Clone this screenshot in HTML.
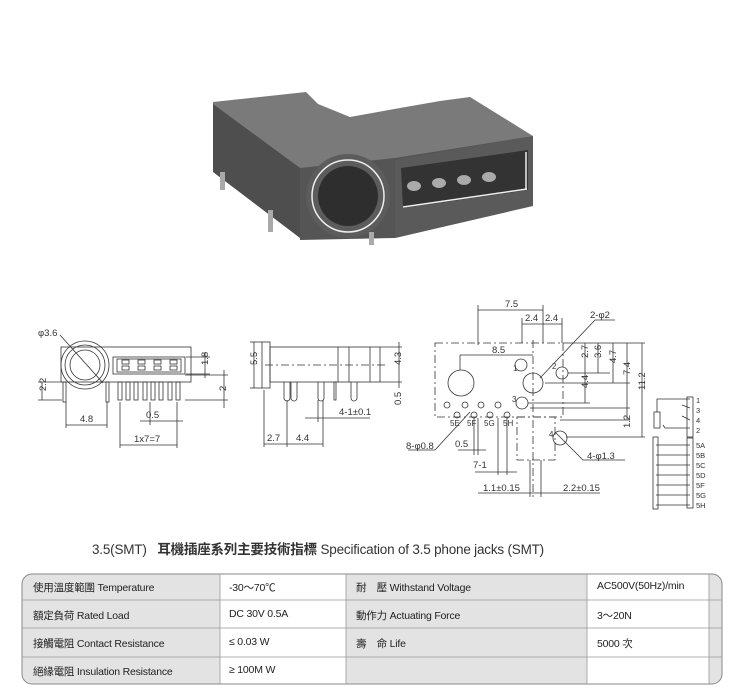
<!DOCTYPE html>
<html><head><meta charset="utf-8"><style>
html,body{margin:0;padding:0;background:#fff;}
body{width:740px;height:700px;position:relative;overflow:hidden;font-family:"Liberation Sans","Noto Sans CJK TC",sans-serif;}
svg{position:absolute;left:0;top:0;}
.t{position:absolute;font-size:10.5px;color:#222;white-space:nowrap;letter-spacing:-0.2px;}
</style></head><body>
<svg width="740" height="700" viewBox="0 0 740 700" font-family="Liberation Sans, sans-serif">
<g>
<polygon points="213,102 306,92 318,104 350,117 400,108 440,101 470,97 533,136 395,160 300,170 213,106" fill="#7a7a7a"/>
<polygon points="213,104 300,168 300,238 213,172" fill="#4e4e4e"/>
<polygon points="300,168 395,158 533,136 533,205 395,238 300,240" fill="#555"/>
<polygon points="395,160 533,136 533,206 395,238" fill="#5a5a5a"/>
<polygon points="401,168 528,150 528,190 403,208" fill="#333"/>
<circle cx="348" cy="196" r="42" fill="#5c5c5c"/>
<circle cx="348" cy="196" r="36" fill="none" stroke="#eee" stroke-width="1.5"/>
<circle cx="348" cy="196" r="30" fill="#2e2e2e"/>
<ellipse cx="414" cy="186" rx="7" ry="5" fill="#aaa"/><ellipse cx="439" cy="183" rx="7" ry="5" fill="#aaa"/><ellipse cx="464" cy="180" rx="7" ry="5" fill="#aaa"/><ellipse cx="489" cy="177" rx="7" ry="5" fill="#aaa"/>
<line x1="403" y1="207" x2="527" y2="189" stroke="#eee" stroke-width="1.5"/>
<line x1="526" y1="152" x2="526" y2="190" stroke="#eee" stroke-width="1.5"/>
<rect x="220" y="172" width="5" height="18" fill="#aaa"/><rect x="268" y="210" width="5" height="22" fill="#aaa"/><rect x="369" y="232" width="5" height="13" fill="#aaa"/>
</g>
<g stroke="#333" stroke-width="0.8" fill="none">
<rect x="61" y="347" width="130" height="35"/>
<circle cx="85" cy="365" r="24"/><circle cx="85" cy="365" r="20"/><circle cx="85" cy="365" r="15"/>
<line x1="60" y1="335" x2="103" y2="383"/>
<rect x="113" y="357" width="72" height="17"/>
<rect x="117" y="359" width="64" height="13"/>
<g><rect x="122" y="360" width="7" height="4"/><rect x="122" y="366" width="7" height="4"/><rect x="138" y="360" width="7" height="4"/><rect x="138" y="366" width="7" height="4"/><rect x="154" y="360" width="7" height="4"/><rect x="154" y="366" width="7" height="4"/><rect x="170" y="360" width="7" height="4"/><rect x="170" y="366" width="7" height="4"/></g>
<rect x="63" y="382" width="3" height="20"/><rect x="106" y="382" width="3" height="20"/>
<rect x="118" y="382" width="4" height="18"/><rect x="126" y="382" width="4" height="18"/><rect x="134" y="382" width="4" height="18"/><rect x="143" y="382" width="4" height="18"/><rect x="151" y="382" width="4" height="18"/><rect x="159" y="382" width="4" height="18"/><rect x="168" y="382" width="4" height="18"/><rect x="176" y="382" width="4" height="18"/>
<line x1="38" y1="382" x2="62" y2="382"/><line x1="38" y1="400" x2="62" y2="400"/><line x1="42" y1="382" x2="42" y2="400"/>
<line x1="66" y1="402" x2="66" y2="428"/><line x1="107" y1="402" x2="107" y2="428"/><line x1="66" y1="425" x2="107" y2="425"/>
<line x1="120" y1="402" x2="120" y2="448"/><line x1="177" y1="402" x2="177" y2="448"/><line x1="120" y1="445" x2="177" y2="445"/>
<line x1="150" y1="402" x2="150" y2="425"/><line x1="140" y1="421" x2="183" y2="421"/>
<line x1="186" y1="357" x2="210" y2="357"/><line x1="186" y1="374" x2="210" y2="374"/><line x1="205" y1="352" x2="205" y2="378"/>
<line x1="185" y1="375" x2="228" y2="375"/><line x1="185" y1="400" x2="228" y2="400"/><line x1="224" y1="370" x2="224" y2="408"/>
<rect x="262" y="342" width="8" height="46"/>
<rect x="270" y="347" width="110" height="35"/>
<line x1="338" y1="347" x2="338" y2="382"/><line x1="349" y1="347" x2="349" y2="382"/><line x1="370" y1="347" x2="370" y2="382"/>
<line x1="265" y1="365" x2="385" y2="365" stroke-dasharray="8,3,2,3"/>
<path d="M284,382 v16 a3,3 0 0 0 6,0 v-16 M291,382 v16 a3,3 0 0 0 6,0 v-16 M318,382 v16 a3,3 0 0 0 6,0 v-16 M351,382 v16 a3,3 0 0 0 6,0 v-16"/>
<rect x="334" y="382" width="2" height="18"/>
<line x1="250" y1="342" x2="262" y2="342"/><line x1="250" y1="388" x2="262" y2="388"/><line x1="254" y1="342" x2="254" y2="388"/>
<line x1="380" y1="347" x2="402" y2="347"/><line x1="380" y1="382" x2="402" y2="382"/><line x1="399" y1="342" x2="399" y2="388"/>
<line x1="264" y1="390" x2="264" y2="447"/><line x1="287" y1="400" x2="287" y2="447"/><line x1="323" y1="400" x2="323" y2="447"/><line x1="264" y1="444" x2="323" y2="444"/>
<line x1="318" y1="400" x2="318" y2="422"/><line x1="305" y1="418" x2="370" y2="418"/>
<g stroke-dasharray="8,3,2,3"><rect x="435" y="343" width="128" height="74"/><rect x="517" y="417" width="38" height="43"/>
<line x1="533" y1="340" x2="533" y2="500"/></g>
<circle cx="461" cy="383" r="13"/><circle cx="521" cy="365" r="6"/><circle cx="533" cy="383" r="10"/><circle cx="562" cy="373" r="6"/><circle cx="522" cy="403" r="6"/><circle cx="560" cy="438" r="7"/>
<circle cx="447" cy="405" r="3"/><circle cx="465" cy="405" r="3"/><circle cx="481" cy="405" r="3"/><circle cx="498" cy="405" r="3"/>
<circle cx="457" cy="415" r="3"/><circle cx="474" cy="415" r="3"/><circle cx="490" cy="415" r="3"/><circle cx="507" cy="415" r="3"/>
<line x1="478" y1="305" x2="478" y2="345"/><line x1="478" y1="310" x2="543" y2="310"/><line x1="543" y1="305" x2="543" y2="343"/>
<line x1="522" y1="318" x2="522" y2="343"/><line x1="562" y1="318" x2="562" y2="343"/><line x1="522" y1="324" x2="562" y2="324"/>
<line x1="460" y1="355" x2="533" y2="355"/><line x1="460" y1="355" x2="460" y2="370"/>
<line x1="540" y1="378" x2="595" y2="320"/><line x1="595" y1="320" x2="615" y2="320"/>
<line x1="563" y1="343" x2="645" y2="343"/><line x1="568" y1="373" x2="610" y2="373"/><line x1="545" y1="383" x2="630" y2="383"/>
<line x1="585" y1="343" x2="585" y2="373"/><line x1="598" y1="343" x2="598" y2="373"/><line x1="613" y1="343" x2="613" y2="383"/><line x1="627" y1="343" x2="627" y2="420"/><line x1="642" y1="343" x2="642" y2="437"/>
<line x1="585" y1="373" x2="585" y2="403"/><line x1="528" y1="403" x2="590" y2="403"/>
<line x1="530" y1="408" x2="630" y2="408"/><line x1="560" y1="420" x2="630" y2="420"/><line x1="566" y1="437" x2="645" y2="437"/>
<line x1="470" y1="412" x2="435" y2="450"/><line x1="435" y1="450" x2="408" y2="450"/>
<line x1="555" y1="432" x2="583" y2="460"/><line x1="583" y1="460" x2="625" y2="460"/>
<line x1="474" y1="418" x2="474" y2="455"/><line x1="478" y1="418" x2="478" y2="455"/><line x1="458" y1="450" x2="486" y2="450"/>
<line x1="498" y1="418" x2="498" y2="475"/><line x1="507" y1="418" x2="507" y2="475"/><line x1="475" y1="472" x2="517" y2="472"/>
<line x1="530" y1="460" x2="530" y2="497"/><line x1="541" y1="460" x2="541" y2="497"/><line x1="478" y1="493" x2="600" y2="493"/>
<rect x="687" y="397" width="6" height="40"/><rect x="687" y="438" width="6" height="70"/><rect x="653" y="437" width="5" height="72"/>
<rect x="654" y="412" width="6" height="16"/>
<path d="M657,412 v-13 h33 M690,408 l-8,-3 M690,420 l-8,-4 M690,428 l-25,0 l-2,-3"/>
<path d="M656,445 h34 M656,455 h34 M656,465 h34 M656,475 h34 M656,485 h34 M656,495 h34 M656,505 h34"/>
</g>
<g fill="#333" font-size="9.5">
<text x="38" y="336">φ3.6</text>
<text x="40" y="397" transform="rotate(-90 40 391)">2.2</text>
<text x="80" y="422">4.8</text>
<text x="146" y="418">0.5</text>
<text x="134" y="442">1x7=7</text>
<text x="203" y="370" transform="rotate(-90 203 365)">1.8</text>
<text x="222" y="395" transform="rotate(-90 222 391)">2</text>
<text x="252" y="370" transform="rotate(-90 252 365)">5.5</text>
<text x="396" y="370" transform="rotate(-90 396 365)">4.3</text>
<text x="396" y="410" transform="rotate(-90 396 405)">0.5</text>
<text x="339" y="415">4-1±0.1</text>
<text x="267" y="441">2.7</text>
<text x="296" y="441">4.4</text>
<text x="505" y="307">7.5</text>
<text x="525" y="321">2.4</text><text x="545" y="321">2.4</text>
<text x="590" y="318">2-φ2</text>
<text x="492" y="353">8.5</text>
<text x="583" y="363" transform="rotate(-90 583 358)">2.7</text>
<text x="596" y="363" transform="rotate(-90 596 358)">3.6</text>
<text x="611" y="368" transform="rotate(-90 611 363)">4.7</text>
<text x="625" y="380" transform="rotate(-90 625 375)">7.4</text>
<text x="640" y="395" transform="rotate(-90 640 390)">11.2</text>
<text x="583" y="393" transform="rotate(-90 583 388)">4.4</text>
<text x="625" y="433" transform="rotate(-90 625 428)">1.2</text>
<text x="513" y="371" font-size="8">1</text><text x="552" y="369" font-size="8">2</text><text x="512" y="402" font-size="8">3</text><text x="549" y="437" font-size="8">4</text>
<text x="450" y="426" font-size="8">5E</text><text x="467" y="426" font-size="8">5F</text><text x="484" y="426" font-size="8">5G</text><text x="503" y="426" font-size="8">5H</text>
<text x="406" y="449">8-φ0.8</text>
<text x="455" y="447">0.5</text>
<text x="473" y="468">7-1</text>
<text x="483" y="491">1.1±0.15</text>
<text x="563" y="491">2.2±0.15</text>
<text x="587" y="459">4-φ1.3</text>
<g font-size="7.5"><text x="696" y="403">1</text><text x="696" y="413">3</text><text x="696" y="423">4</text><text x="696" y="433">2</text><text x="696" y="448">5A</text><text x="696" y="458">5B</text><text x="696" y="468">5C</text><text x="696" y="478">5D</text><text x="696" y="488">5F</text><text x="696" y="498">5G</text><text x="696" y="508">5H</text></g>
</g>
<rect x="22" y="574" width="700" height="110" rx="10" fill="#e3e3e3" stroke="#888" stroke-width="1"/>
<rect x="220" y="574.5" width="126" height="109" fill="#fff"/>
<rect x="587" y="574.5" width="122" height="109" fill="#fff"/>
<g stroke="#999" stroke-width="0.8">
<line x1="22" y1="600" x2="722" y2="600"/><line x1="22" y1="628" x2="722" y2="628"/><line x1="22" y1="657" x2="722" y2="657"/>
<line x1="220" y1="574" x2="220" y2="684"/><line x1="346" y1="574" x2="346" y2="684"/><line x1="587" y1="574" x2="587" y2="684"/><line x1="709" y1="574" x2="709" y2="684"/>
</g>
</svg>
<div class="t" style="left:92px;top:538px;font-size:13.5px;color:#333">3.5(SMT)&nbsp;&nbsp; <b>耳機插座系列主要技術指標</b> Specification of 3.5 phone jacks (SMT)</div>
<div class="t" style="left:33px;top:580px">使用溫度範圍 Temperature</div>
<div class="t" style="left:229px;top:580px">-30～70℃</div>
<div class="t" style="left:356px;top:580px">耐　壓 Withstand Voltage</div>
<div class="t" style="left:597px;top:580px">AC500V(50Hz)/min</div>
<div class="t" style="left:33px;top:608px">額定負荷 Rated Load</div>
<div class="t" style="left:229px;top:608px">DC 30V 0.5A</div>
<div class="t" style="left:356px;top:608px">動作力 Actuating Force</div>
<div class="t" style="left:597px;top:608px">3～20N</div>
<div class="t" style="left:33px;top:636px">接觸電阻 Contact Resistance</div>
<div class="t" style="left:229px;top:636px">≤ 0.03 W</div>
<div class="t" style="left:356px;top:636px">壽　命 Life</div>
<div class="t" style="left:597px;top:636px">5000 次</div>
<div class="t" style="left:33px;top:664px">絕緣電阻 Insulation Resistance</div>
<div class="t" style="left:229px;top:664px">≥ 100M W</div>
</body></html>
